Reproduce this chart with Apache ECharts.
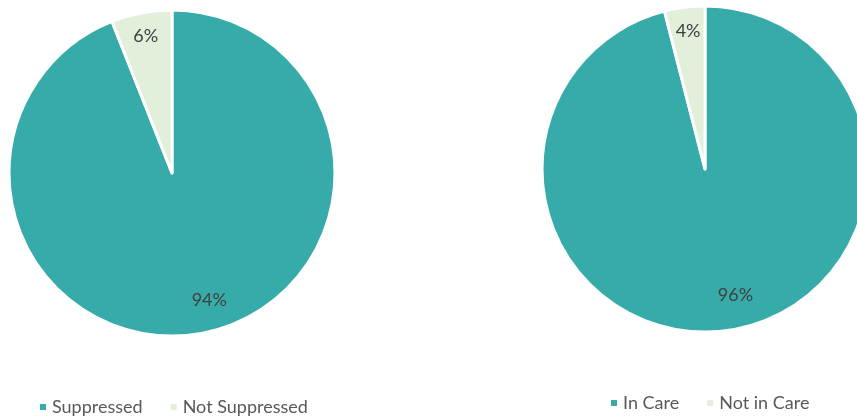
<!DOCTYPE html>
<html>
<head>
<meta charset="utf-8">
<script src="https://cdn.jsdelivr.net/npm/echarts@6/dist/echarts.min.js"></script>
<style>
html,body{margin:0;padding:0;background:#fff;}
#c{width:857px;height:418px;}
</style>
</head>
<body>
<div id="c"></div>
<script>
const leftCategories = ['Suppressed', 'Not Suppressed'];
const leftValues = [94, 6];
const rightCategories = ['In Care', 'Not in Care'];
const rightValues = [96, 4];

const teal = '#37ABAA';
const light = '#E2EFDA';
const colors = [teal, light];
const font = 'Lato, "Open Sans", sans-serif';

// label nudges to mimic the reference's best-fit label placement:
// [left/right padding for horizontal shift, spacer height for vertical shift]
const leftNudge = [{ pad: [0, 0, 0, 24], up: 10 }, { pad: [0, 2, 0, 0], up: 8 }];
const rightNudge = [{ pad: [0, 0, 0, 27], up: 15 }, { pad: [0, 0, 0, 0], up: 8 }];

function visData(cats, vals) {
  return cats.map((n, i) => ({ name: n, value: vals[i], itemStyle: { color: colors[i] } }));
}
function labelData(cats, vals, nudges) {
  return cats.map((n, i) => ({
    name: n, value: vals[i],
    label: {
      padding: nudges[i].pad,
      formatter: '{c}%\n{s| }',
      rich: { s: { height: nudges[i].up, fontSize: 1, lineHeight: nudges[i].up } }
    }
  }));
}

const chart = echarts.init(document.getElementById('c'));
function pieVis(center, cats, vals) {
  return {
    type: 'pie', center: center, radius: [0, 163],
    startAngle: 90, clockwise: true, silent: true,
    label: { show: false }, labelLine: { show: false },
    itemStyle: { borderColor: '#fff', borderWidth: 3 },
    data: visData(cats, vals)
  };
}
function pieLab(center, cats, vals, nudges) {
  return {
    type: 'pie', center: center, radius: [101, 163],
    startAngle: 90, clockwise: true, silent: true,
    itemStyle: { color: 'rgba(0,0,0,0)' },
    label: { show: true, position: 'inside', color: '#404040', fontSize: 18, lineHeight: 20, fontFamily: font },
    labelLine: { show: false },
    legendHoverLink: false,
    data: labelData(cats, vals, nudges)
  };
}
chart.setOption({
  animation: false,
  color: colors,
  legend: [
    { data: leftCategories, left: 33, top: 393, itemWidth: 8, itemHeight: 8, itemGap: 26, icon: 'rect',
      textStyle: { color: '#595959', fontSize: 18, fontFamily: font } },
    { data: rightCategories, left: 604, top: 389, itemWidth: 8, itemHeight: 8, itemGap: 26, icon: 'rect',
      textStyle: { color: '#595959', fontSize: 18, fontFamily: font } }
  ],
  series: [
    pieVis([172, 173], leftCategories, leftValues),
    pieLab([172, 173], leftCategories, leftValues, leftNudge),
    pieVis([705, 169], rightCategories, rightValues),
    pieLab([705, 169], rightCategories, rightValues, rightNudge)
  ]
});
</script>
</body>
</html>
